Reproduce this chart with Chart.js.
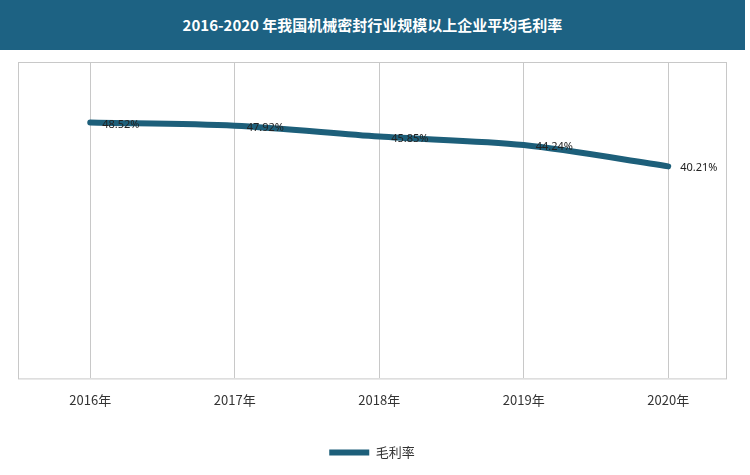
<!DOCTYPE html>
<html>
<head>
<meta charset="utf-8">
<script src="https://cdn.jsdelivr.net/npm/chart.js@4"></script>
<style>
  body { margin: 0; background: #fff; font-family: "Noto Sans CJK SC", sans-serif; }
  #title { position: absolute; left: 0; top: 0; width: 745px; height: 50px; background: #1d6283;
           color: #fff; font-weight: bold; font-size: 15px; line-height: 50px; text-align: center; }
  #wrap { position: absolute; left: 0; top: 50px; width: 750px; height: 425px; }
</style>
</head>
<body>
<div id="title">2016-2020 年我国机械密封行业规模以上企业平均毛利率</div>
<div id="wrap"><canvas id="chart" width="750" height="425"></canvas></div>
<script>
'use strict';

const years  = ['2016年', '2017年', '2018年', '2019年', '2020年'];
const margin = [48.52, 47.92, 45.85, 44.24, 40.21];
const seriesName = '毛利率';

const points = margin.map((v, i) => ({ x: i, y: v }));

// 외곽 박스 + 값 라벨
const decor = {
  id: 'decor',
  beforeDatasetsDraw(chart) {
    const { ctx, chartArea: a } = chart;
    ctx.save();
    ctx.strokeStyle = '#c8c8c8';
    ctx.lineWidth = 1;
    ctx.strokeRect(a.left + 0.5, a.top + 0.5, a.right - a.left, a.bottom - a.top);
    ctx.restore();
  },
  afterDatasetsDraw(chart) {
    const { ctx } = chart;
    const meta = chart.getDatasetMeta(0);
    ctx.save();
    ctx.fillStyle = '#222';
    ctx.font = '11px "Noto Sans", sans-serif';
    ctx.textBaseline = 'middle';
    meta.data.forEach((p, i) => {
      ctx.fillText(margin[i].toFixed(2) + '%', p.x + 12, p.y + 2);
    });
    ctx.restore();
  }
};

new Chart(document.getElementById('chart'), {
  type: 'line',
  data: {
    datasets: [{
      label: seriesName,
      data: points,
      borderColor: '#1d5f7a',
      borderWidth: 6,
      pointRadius: 0,
      tension: 0.3,
      borderCapStyle: 'round'
    }, {
      label: '_inner',
      data: points,
      borderColor: 'rgba(210,230,238,0.9)',
      borderWidth: 1.5,
      pointRadius: 0,
      tension: 0.3
    }]
  },
  options: {
    responsive: false,
    animation: false,
    layout: { padding: { left: 18, right: 24, top: 12, bottom: 6 } },
    scales: {
      x: {
        type: 'linear', min: -0.5, max: 4.4,
        grid: { color: '#c8c8c8', drawTicks: false },
        border: { display: false },
        afterBuildTicks: s => { s.ticks = years.map((_, i) => ({ value: i })); },
        ticks: { color: '#333', padding: 14, font: { size: 13, family: '"Noto Sans CJK SC"' },
                 callback: v => years[v] }
      },
      y: {
        display: false, min: 0, max: 60
      }
    },
    plugins: {
      legend: {
        position: 'bottom',
        labels: {
          filter: item => item.text !== '_inner',
          usePointStyle: true, pointStyle: 'line', pointStyleWidth: 40,
          color: '#333', font: { size: 13, family: '"Noto Sans CJK SC"' }, padding: 24
        }
      },
      tooltip: { enabled: false }
    }
  },
  plugins: [decor]
});
</script>
</body>
</html>
